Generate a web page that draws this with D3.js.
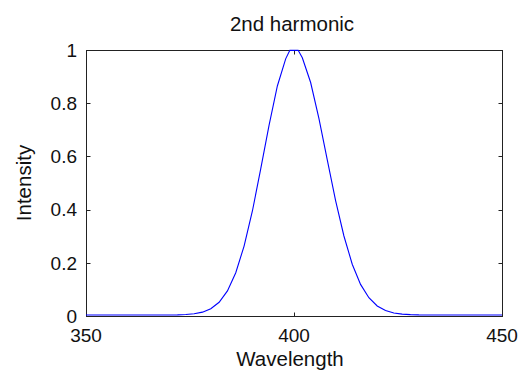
<!DOCTYPE html>
<html>
<head>
<meta charset="utf-8">
<script src="https://cdn.jsdelivr.net/npm/d3@7"></script>
<style>
  html, body { margin: 0; padding: 0; background: #fff; }
  svg { display: block; }
  text { font-family: "Liberation Sans", Arial, sans-serif; fill: #111; }
</style>
</head>
<body>
<svg id="chart" width="521" height="375"></svg>
<script>
// ---- data ----
const wavelength = [350, 370, 372, 374, 376, 378, 380, 382, 384, 386, 388, 390, 392, 394, 396, 398, 399, 401,
                    402, 404, 406, 408, 410, 412, 414, 416, 418, 420, 422, 424, 426, 428, 430, 450];
const intensity  = [0, 0.0002, 0.0006, 0.0018, 0.0045, 0.0107, 0.0234, 0.0478, 0.0905, 0.159, 0.259, 0.391, 0.549, 0.713, 0.861, 0.963, 0.995, 0.995,
                    0.967, 0.874, 0.738, 0.583, 0.430, 0.297, 0.191, 0.115, 0.065, 0.034, 0.0169, 0.0078, 0.0033, 0.0013, 0.0005, 0];
const xTicks = [350, 400, 450];
const yTicks = [0, 0.2, 0.4, 0.6, 0.8, 1];
const titleText = "2nd harmonic";
const xLabel = "Wavelength";
const yLabel = "Intensity";

// ---- layout ----
const L = 86, R = 502, T = 50, B = 316;
const svg = d3.select("#chart");
const x = d3.scaleLinear().domain([350, 450]).range([L, R]);
const y = d3.scaleLinear().domain([0, 1]).range([B, T]);
const tickLen = 4;
const fs = 19;
const fsLab = 20.5;

// box
svg.append("rect")
  .attr("x", L + 0.5).attr("y", T + 0.5)
  .attr("width", R - L).attr("height", B - T)
  .attr("fill", "none").attr("stroke", "#222").attr("stroke-width", 1);

// ticks inside (bottom/top, left/right)
const g = svg.append("g").attr("stroke", "#222").attr("stroke-width", 1);
xTicks.forEach(v => {
  const px = Math.round(x(v)) + 0.5;
  g.append("line").attr("x1", px).attr("x2", px).attr("y1", B + 0.5).attr("y2", B + 0.5 - tickLen);
  g.append("line").attr("x1", px).attr("x2", px).attr("y1", T + 0.5).attr("y2", T + 0.5 + tickLen);
});
yTicks.forEach(v => {
  const py = Math.round(y(v)) + 0.5;
  g.append("line").attr("x1", L + 0.5).attr("x2", L + 0.5 + tickLen).attr("y1", py).attr("y2", py);
  g.append("line").attr("x1", R + 0.5).attr("x2", R + 0.5 - tickLen).attr("y1", py).attr("y2", py);
});

// tick labels
svg.append("g").selectAll("text").data(xTicks).join("text")
  .attr("x", d => x(d)).attr("y", 342)
  .attr("text-anchor", "middle").attr("font-size", fs)
  .text(d => d);
svg.append("g").selectAll("text").data(yTicks).join("text")
  .attr("x", 77).attr("y", d => y(d)).attr("dy", "0.36em")
  .attr("text-anchor", "end").attr("font-size", fs)
  .text(d => d3.format("~g")(d));

// title & axis labels
svg.append("text").attr("x", 292).attr("y", 31).attr("text-anchor", "middle")
  .attr("font-size", fsLab).text(titleText);
svg.append("text").attr("x", 290).attr("y", 366).attr("text-anchor", "middle")
  .attr("font-size", fsLab).text(xLabel);
svg.append("text").attr("transform", `translate(31,${(T + B) / 2}) rotate(-90)`)
  .attr("text-anchor", "middle").attr("font-size", fsLab).text(yLabel);

// curve
const line = d3.line().x((d, i) => x(wavelength[i])).y(d => y(d) - 1);
svg.append("path").datum(intensity)
  .attr("d", line).attr("fill", "none")
  .attr("stroke", "#0000ff").attr("stroke-width", 1.1);
</script>
</body>
</html>
